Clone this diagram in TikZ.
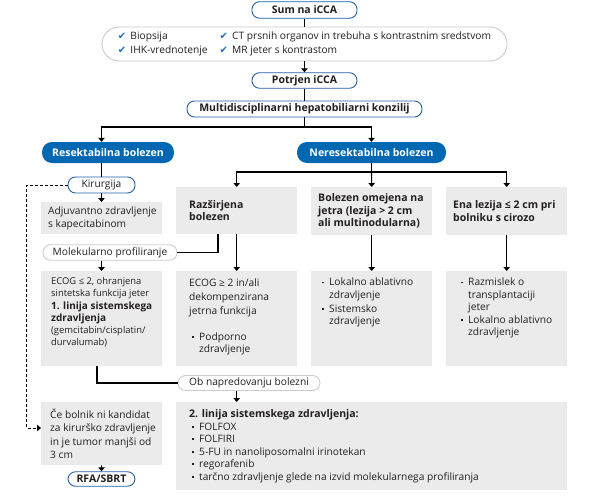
\documentclass[tikz,border=0pt]{standalone}
\usepackage{fontspec}
\setmainfont{Open Sans}
\newfontfamily\dejavu{DejaVu Sans}
\usetikzlibrary{arrows.meta,calc}
\definecolor{bblue}{RGB}{0,104,179}
\definecolor{bline}{RGB}{35,95,165}
\definecolor{gline}{RGB}{205,205,205}
\definecolor{gfill}{RGB}{235,235,235}
\definecolor{txt}{RGB}{35,31,32}
\definecolor{chk}{RGB}{35,110,190}
\newcommand\ck{\makebox[12.5pt][l]{\dejavu\color{chk}\fontsize{10}{10}\selectfont ✔}}
\newcommand\bl{\makebox[10pt][l]{\hspace*{3pt}\rule[2.5pt]{1.8pt}{1.8pt}}}
\newcommand\ind{\hspace*{10pt}}
\newcommand\bfx[1]{{\fontsize{10.5}{12.5}\selectfont\bfseries #1}}
\newcommand\gbc[4]{\makebox[#1pt][l]{\hspace*{#3pt}\parbox[c][#2pt][c]{\dimexpr#1pt-#3pt\relax}{\raggedright #4}}}
\newcommand\gbt[5]{\makebox[#1pt][l]{\hspace*{#3pt}\parbox[c][#2pt][t]{\dimexpr#1pt-#3pt\relax}{\raggedright\vspace*{#4pt}\strut #5}}}
\begin{document}
\begin{tikzpicture}[x=1pt,y=-1pt,
  every node/.style={font=\fontsize{10.2}{12.5}\selectfont, text=txt},
  bpill/.style={draw=bline, line width=0.9pt, rounded corners=7.5pt, fill=white, inner sep=0pt},
  gpill/.style={draw=gline, line width=0.9pt, rounded corners=7.5pt, fill=white, inner sep=0pt},
  fpill/.style={fill=bblue, rounded corners=10pt, text=white, inner sep=0pt, font=\fontsize{10.5}{12}\selectfont\bfseries},
  bold/.style={font=\fontsize{10.5}{12}\selectfont\bfseries},
  gbox/.style={fill=gfill, inner sep=0pt, anchor=north west},
  conn/.style={line width=1.1pt, draw=black},
  arr/.style={conn, -{Triangle[width=6.5pt,length=4pt]}},
]
\useasboundingbox (0,0) rectangle (597,498);

% top chain
\node[bpill, bold, minimum width=105pt, minimum height=16.5pt] (sum) at (304.5,10) {Sum na iCCA};
\node[gpill, rounded corners=17pt, minimum width=405pt, minimum height=34pt] (chk) at (304.5,44)
  {\renewcommand\arraystretch{1.1}\begin{tabular}{@{}l@{\hspace{12pt}}l@{}}
   \ck Biopsija & \ck CT prsnih organov in trebuha s kontrastnim sredstvom\\
   \ck IHK-vrednotenje & \ck MR jeter s kontrastom
   \end{tabular}};
\node[bpill, bold, minimum width=105pt, minimum height=15.5pt] (potr) at (304.5,80.5) {Potrjen iCCA};
\node[bpill, bold, minimum width=235pt, minimum height=16pt] (multi) at (304.5,109) {Multidisciplinarni hepatobiliarni konzilij};

% branches
\node[fpill, minimum width=132pt, minimum height=21pt] (res) at (108,152.5) {Resektabilna bolezen};
\node[fpill, minimum width=149pt, minimum height=21pt] (nres) at (371.5,152.5) {Neresektabilna bolezen};

% resectable column
\node[bpill, minimum width=67pt, minimum height=16pt] (kir) at (101.5,185) {Kirurgija};
\node[gbox] (adj) at (41,202) {\gbc{121}{32}{7}{Adjuvantno zdravljenje\\s kapecitabinom}};
\node[gpill, minimum width=134pt, minimum height=15.5pt] (mol) at (110,252.5) {Molekularno profiliranje};
\node[gbox, font=\fontsize{9.4}{12}\selectfont] (ecog1) at (41,271) {\gbt{121}{95}{10}{5}{ECOG ≤ 2, ohranjena\\sintetska funkcija jeter\\{\fontsize{10}{12.5}\selectfont\bfseries 1. linija sistemskega\\zdravljenja}\\(gemcitabin/cisplatin/\\durvalumab)}};
\node[gbox] (ce) at (41,402) {\gbc{121}{63}{9}{Če bolnik ni kandidat\\[0.8pt]za kirurško zdravljenje\\[0.8pt]in je tumor manjši od\\[0.8pt]3 cm}};
\node[bpill, bold, minimum width=67pt, minimum height=14.5pt] (rfa) at (101.5,479) {RFA/SBRT};

% unresectable columns
\node[gbox] (raz) at (176,187) {\gbc{121}{47}{13}{\bfx{Razširjena\\bolezen}}};
\node[gbox] (omej) at (311,187) {\gbc{121}{48}{7}{\bfx{Bolezen omejena na\\jetra (lezija > 2 cm\\ali multinodularna)}}};
\node[gbox] (ena) at (446,187) {\gbc{121}{48}{7}{\bfx{Ena lezija ≤ 2 cm pri\\bolniku s cirozo}}};
\node[gbox] (ecog2) at (176,271) {\gbt{121}{95}{13}{7}{ECOG ≥ 2 in/ali\\[1.5pt]dekompenzirana\\[1.5pt]jetrna funkcija\\[13pt]\bl Podporno\\\ind zdravljenje}};
\node[gbox] (omej2) at (311,271) {\gbt{121}{95}{8}{6}{\bl Lokalno ablativno\\\ind zdravljenje\\[1.5pt]\bl Sistemsko\\\ind zdravljenje}};
\node[gbox] (ena2) at (446,271) {\gbt{121}{95}{12}{6}{\bl Razmislek o\\\ind transplantaciji\\\ind jeter\\\bl Lokalno ablativno\\\ind zdravljenje}};

\node[gpill, minimum width=142pt, minimum height=15pt] (ob) at (249,383) {Ob napredovanju bolezni};
\node[gbox] (lin2) at (176,402) {\gbc{391}{88}{13}{\bfx{2. linija sistemskega zdravljenja:}\\\bl FOLFOX\\\bl FOLFIRI\\\bl 5-FU in nanoliposomalni irinotekan\\\bl regorafenib\\\bl tarčno zdravljenje glede na izvid molekularnega profiliranja}};

% connectors
\draw[conn] (sum) -- (chk);
\draw[arr] (chk) -- (potr);
\draw[conn] (potr) -- (multi);
\coordinate (j1) at (304.5,127);
\draw[conn] (multi) -- (j1);
\draw[arr] (j1) -| (kir.north |- res.north);
\draw[arr] (j1) -| (nres.north);

\draw[conn] (kir.north |- res.south) -- (kir.north);
\draw[arr] (kir.south) -- (kir.south |- adj.north);
\draw[arr] (kir.south |- mol.south) -- (kir.south |- ecog1.north);

\coordinate (j2) at (371.5,172);
\draw[conn] (nres) -- (j2);
\draw[arr] (j2) -| (raz.north);
\draw[arr] (j2) -- (omej.north);
\draw[arr] (j2) -| (ena.north);

\coordinate (rzm) at ($(raz.south west)+(42,0)$);
\draw[conn] (rzm) |- (mol.east);
\draw[arr] (raz) -- (ecog2);
\draw[arr] (omej) -- (omej2);
\draw[arr] (ena) -- (ena2);

\coordinate (e1) at ($(ecog1.south west)+(56,0)$);
\draw[conn] (e1) |- (ob.west);
\draw[arr] (raz.south |- ob.south) -- (raz.south |- lin2.north);

\coordinate (dend) at ($(ce.north west)+(0,26)$);
\draw[conn, dash pattern=on 3pt off 2pt, line width=0.9pt, -{Triangle[width=6.5pt,length=4pt]}] (kir.west) -- ++(-41,0) |- (dend);
\draw[arr] (ce) -- (rfa);
\end{tikzpicture}
\end{document}
